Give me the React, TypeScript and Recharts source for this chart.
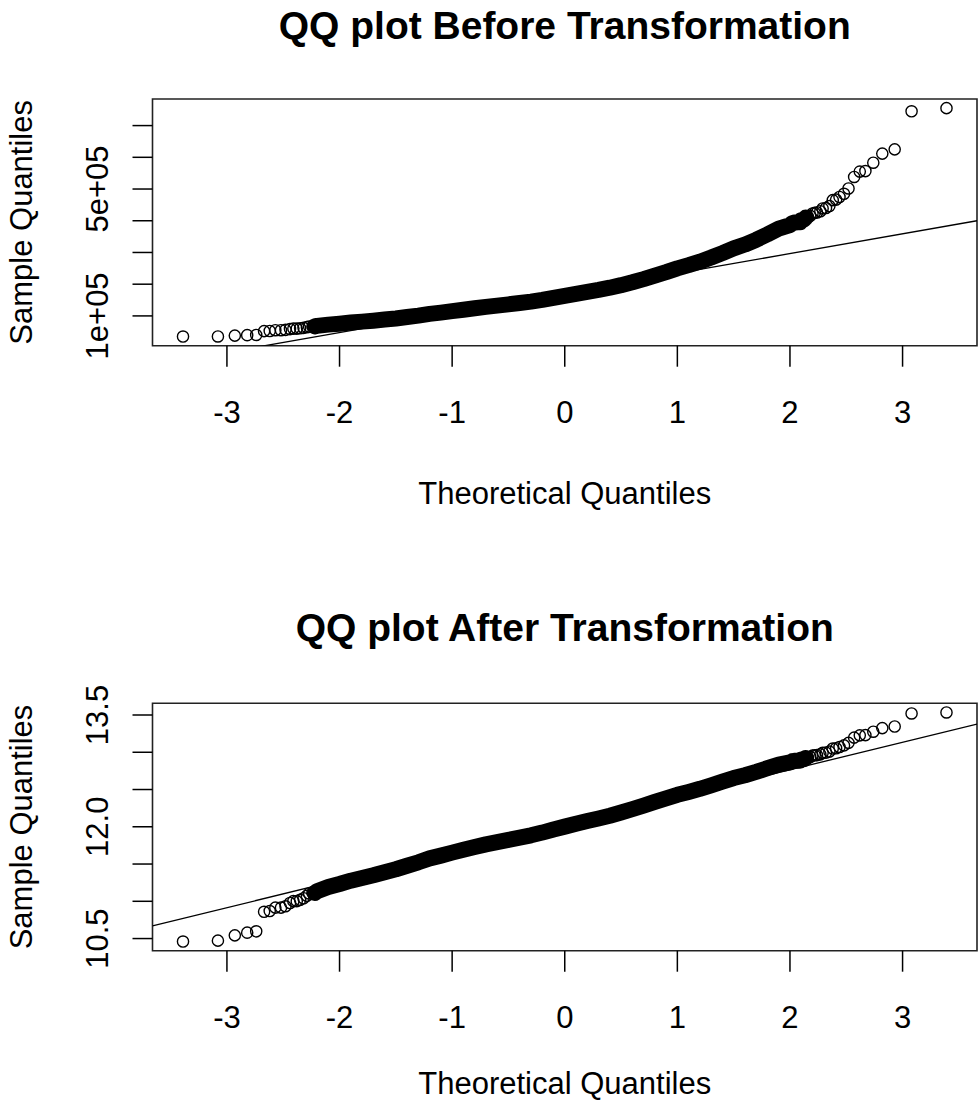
import React from 'react'
import { ComposedChart, XAxis, YAxis, Scatter, Line, ReferenceArea } from 'recharts'

// normal quantiles of the sorted sample (tails listed point by point, body on a 0.1 grid)
const theoretical = [
  -3.39, -3.08, -2.93, -2.82, -2.74, -2.67, -2.62, -2.57, -2.52, -2.48, -2.44, -2.41, -2.38, -2.35, -2.32, -2.29,
  -2.27, -2.24, -2.22,
  -2.2, -2.1, -2.0, -1.9, -1.8, -1.7, -1.6, -1.5, -1.4, -1.3, -1.2, -1.1, -1.0, -0.9, -0.8, -0.7, -0.6, -0.5, -0.4,
  -0.3, -0.2, -0.1, 0, 0.1, 0.2, 0.3, 0.4, 0.5, 0.6, 0.7, 0.8, 0.9, 1.0, 1.1, 1.2, 1.3, 1.4, 1.5, 1.6, 1.7, 1.8,
  1.9, 2.0,
  2.02, 2.04, 2.05, 2.07, 2.09, 2.1, 2.12, 2.14, 2.16, 2.18, 2.2, 2.22, 2.24, 2.27, 2.29, 2.32, 2.35, 2.38, 2.41,
  2.44, 2.48, 2.52, 2.57, 2.62, 2.67, 2.74, 2.82, 2.93, 3.08, 3.39,
]

const salePrice = [
  34900, 35311, 37900, 39300, 40000, 52000, 52500, 55000, 55000, 55993, 58500, 60000, 60000, 61000, 62383, 64500,
  66500, 67000, 67000,
  68500, 72500, 75500, 79000, 82000, 85000, 88500, 92000, 96500, 101000, 106500, 110500, 115000, 119500, 124000,
  128500, 132500, 136500, 140500, 145000, 150500, 157000, 163000, 169500, 176000, 182000, 189000, 197000, 206000,
  216000, 227000, 238000, 250000, 260000, 271000, 284000, 298000, 313000, 325000, 340000, 357000, 375000, 386000,
  392500, 394432, 394617, 395000, 395192, 402000, 402861, 410000, 412500, 415298, 423000, 424870, 426000, 430000,
  438780, 440000, 446261, 465000, 466500, 475000, 485000, 501837, 538000, 555000, 556581, 582933, 611657, 625000,
  745000, 755000,
]

const logSalePrice = [
  10.46, 10.472, 10.543, 10.579, 10.597, 10.859, 10.869, 10.915, 10.915, 10.933, 10.977, 11.002, 11.002, 11.019,
  11.041, 11.074, 11.105, 11.112, 11.112,
  11.134, 11.191, 11.232, 11.277, 11.314, 11.35, 11.391, 11.43, 11.477, 11.523, 11.576, 11.613, 11.653, 11.691,
  11.728, 11.764, 11.794, 11.824, 11.853, 11.885, 11.922, 11.964, 12.002, 12.041, 12.078, 12.112, 12.149, 12.191,
  12.236, 12.283, 12.333, 12.38, 12.429, 12.468, 12.51, 12.557, 12.605, 12.654, 12.692, 12.737, 12.786, 12.835,
  12.864,
  12.88, 12.885, 12.886, 12.887, 12.887, 12.904, 12.906, 12.924, 12.93, 12.937, 12.955, 12.96, 12.962, 12.972,
  12.992, 12.995, 13.009, 13.05, 13.053, 13.071, 13.092, 13.126, 13.196, 13.227, 13.23, 13.276, 13.324, 13.346,
  13.521, 13.534,
]

const xTicks = [-3, -2, -1, 0, 1, 2, 3]
const priceTicks = [100000, 200000, 300000, 400000, 500000, 600000, 700000]
const priceTickText = ['1e+05', '', '', '', '5e+05', '', '']
const logTicks = [10.5, 11, 11.5, 12, 12.5, 13, 13.5]
const logTickText = ['10.5', '', '', '12.0', '', '', '13.5']

// qqline values at the two ends of the x range
const priceLineEnds = [-56000, 400000]
const logLineEnds = [10.67, 13.379]

const X_DOMAIN: [number, number] = [-3.661, 3.661]
const FONT = '"Liberation Sans", Arial, Helvetica, sans-serif'
const W = 978
const PLOT_LEFT = 152.5
const PLOT_RIGHT = 977
const Y_AXIS_W = 60
const X_AXIS_H = 30

interface PanelProps {
  offset: number
  height: number
  plotTop: number
  plotBottom: number
  title: string
  titleBaseline: number
  xLabelBaseline: number
  values: number[]
  lineEnds: number[]
  yDomain: [number, number]
  yTicks: number[]
  yTickText: string[]
}

const Ring = (props: any) => {
  const { cx, cy } = props
  if (cx == null || cy == null) return null
  return <circle cx={cx} cy={cy} r={5.6} fill="none" stroke="#000" strokeWidth={1.4} />
}

function QQPanel(p: PanelProps) {
  const rows = theoretical.map((q, i) => ({ q, v: p.values[i] }))
  // where the markers pile up they read as one solid band
  const band = rows.slice(18, 70)
  const lineRows = [
    { q: X_DOMAIN[0], v: p.lineEnds[0] },
    { q: X_DOMAIN[1], v: p.lineEnds[1] },
  ]
  const midX = (PLOT_LEFT + PLOT_RIGHT) / 2
  const midY = (p.plotTop + p.plotBottom) / 2

  const XTick = (t: any) => (
    <text x={t.x} y={p.plotBottom + 77} textAnchor="middle" fontSize={31} fontFamily={FONT} fill="#000">
      {t.payload.value}
    </text>
  )
  const YTick = (t: any) => {
    const label = p.yTickText[p.yTicks.indexOf(t.payload.value)]
    if (!label) return null
    return (
      <text
        x={108}
        y={t.y}
        transform={`rotate(-90 108 ${t.y})`}
        textAnchor="middle"
        fontSize={31}
        fontFamily={FONT}
        fill="#000"
      >
        {label}
      </text>
    )
  }

  return (
    <div style={{ position: 'absolute', left: 0, top: p.offset, width: W, height: p.height }}>
      <ComposedChart
        width={W}
        height={p.height}
        margin={{
          top: p.plotTop,
          left: PLOT_LEFT - Y_AXIS_W,
          right: W - PLOT_RIGHT,
          bottom: p.height - p.plotBottom - X_AXIS_H,
        }}
      >
        <XAxis
          type="number"
          dataKey="q"
          domain={X_DOMAIN}
          allowDataOverflow
          ticks={xTicks}
          interval={0}
          height={X_AXIS_H}
          axisLine={false}
          tickSize={21}
          tickLine={{ stroke: '#000', strokeWidth: 1.5 }}
          tick={XTick}
        />
        <YAxis
          type="number"
          dataKey="v"
          domain={p.yDomain}
          allowDataOverflow
          ticks={p.yTicks}
          interval={0}
          width={Y_AXIS_W}
          axisLine={false}
          tickSize={20}
          tickLine={{ stroke: '#000', strokeWidth: 1.5 }}
          tick={YTick}
        />
        <Line
          data={band}
          dataKey="v"
          type="linear"
          stroke="#000"
          strokeWidth={16}
          strokeLinecap="round"
          strokeLinejoin="round"
          dot={false}
          activeDot={false}
          isAnimationActive={false}
        />
        <Scatter data={rows} dataKey="v" shape={Ring} isAnimationActive={false} />
        <Line
          data={lineRows}
          dataKey="v"
          type="linear"
          stroke="#000"
          strokeWidth={1.3}
          dot={false}
          activeDot={false}
          isAnimationActive={false}
        />
        <ReferenceArea
          x1={X_DOMAIN[0]}
          x2={X_DOMAIN[1]}
          y1={p.yDomain[0]}
          y2={p.yDomain[1]}
          fill="none"
          fillOpacity={0}
          stroke="#222"
          strokeWidth={1.6}
        />
      </ComposedChart>
      <svg
        width={W}
        height={p.height}
        style={{ position: 'absolute', left: 0, top: 0, pointerEvents: 'none' }}
      >
        <text
          x={midX}
          y={p.titleBaseline}
          textAnchor="middle"
          fontSize={39}
          fontWeight="bold"
          fontFamily={FONT}
          fill="#000"
        >
          {p.title}
        </text>
        <text x={midX} y={p.xLabelBaseline} textAnchor="middle" fontSize={31} fontFamily={FONT} fill="#000">
          Theoretical Quantiles
        </text>
        <text
          x={32}
          y={midY}
          transform={`rotate(-90 32 ${midY})`}
          textAnchor="middle"
          fontSize={31}
          fontFamily={FONT}
          fill="#000"
        >
          Sample Quantiles
        </text>
      </svg>
    </div>
  )
}

export default function App() {
  return (
    <div
      style={{
        position: 'absolute',
        left: 0,
        top: 0,
        width: W,
        height: 1103,
        overflow: 'hidden',
        background: '#fff',
      }}
    >
      <QQPanel
        offset={0}
        height={560}
        plotTop={99}
        plotBottom={345.7}
        title="QQ plot Before Transformation"
        titleBaseline={39}
        xLabelBaseline={503.7}
        values={salePrice}
        lineEnds={priceLineEnds}
        yDomain={[6096, 783804]}
        yTicks={priceTicks}
        yTickText={priceTickText}
      />
      <QQPanel
        offset={560}
        height={543}
        plotTop={143.3}
        plotBottom={390.7}
        title="QQ plot After Transformation"
        titleBaseline={81}
        xLabelBaseline={534}
        values={logSalePrice}
        lineEnds={logLineEnds}
        yDomain={[10.337, 13.657]}
        yTicks={logTicks}
        yTickText={logTickText}
      />
    </div>
  )
}
